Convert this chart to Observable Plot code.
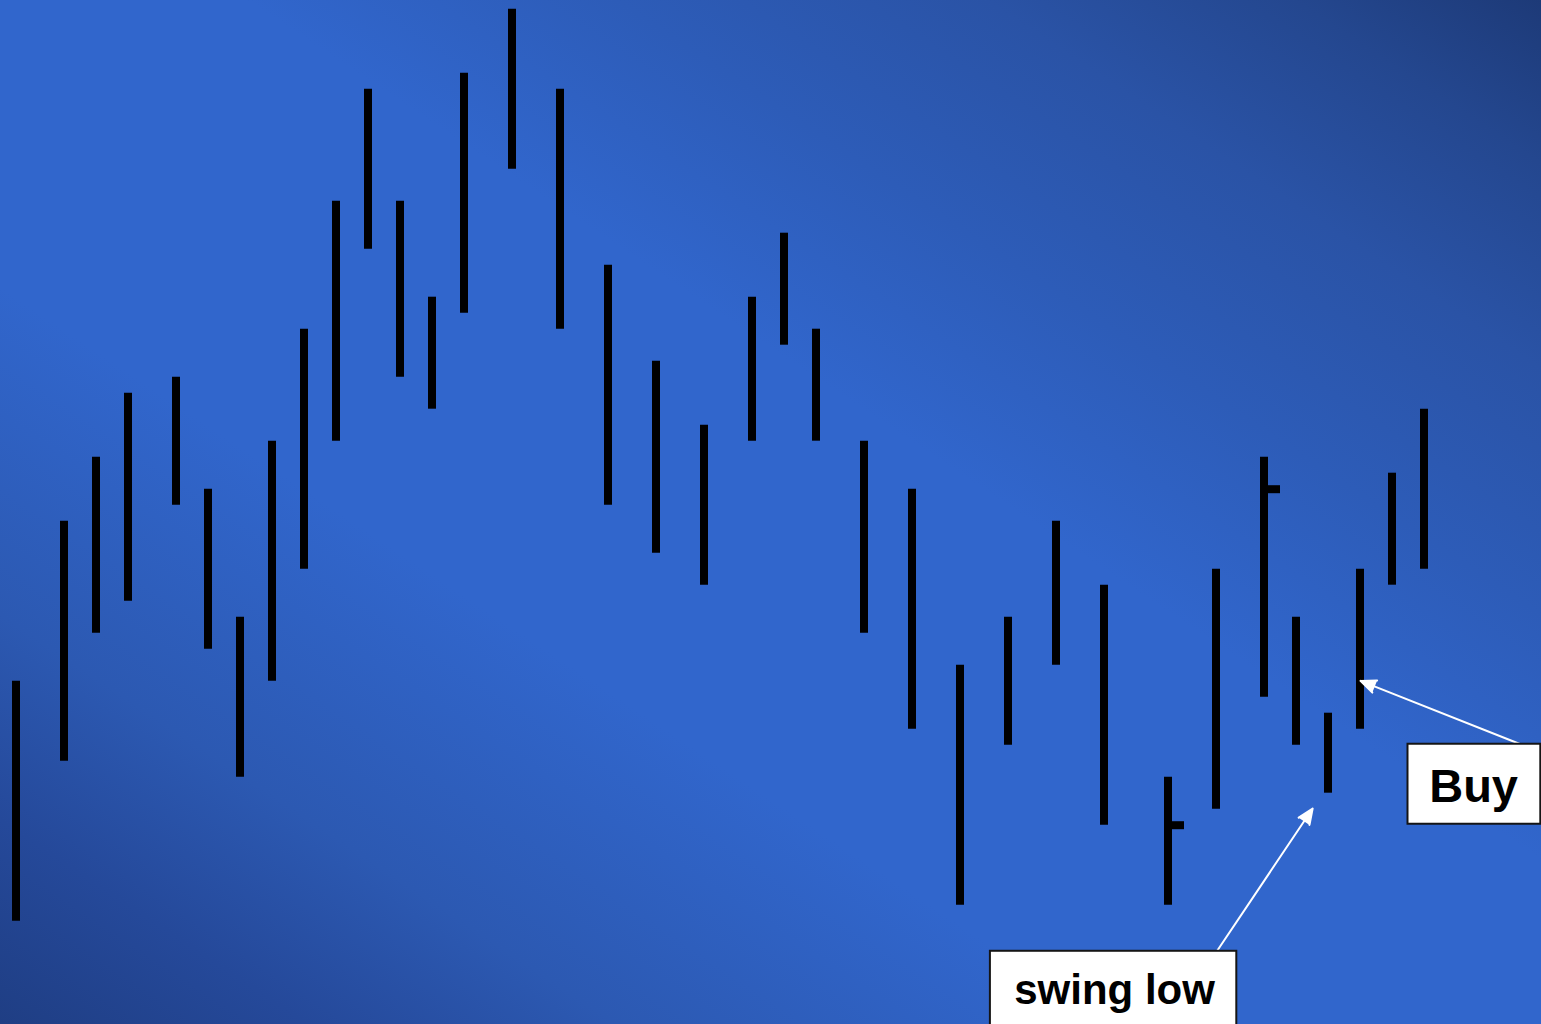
<!DOCTYPE html>
<html>
<head>
<meta charset="utf-8">
<script src="https://cdn.jsdelivr.net/npm/d3@7"></script>
<script src="https://cdn.jsdelivr.net/npm/@observablehq/plot@0.6"></script>
<style>
  html, body { margin: 0; padding: 0; background: #3166cc; overflow: hidden; }
</style>
</head>
<body>
<div id="chart"></div>
<script>
// Bar positions (session index) and high / low prices
const barIndex = [0, 3, 5, 7, 10, 12, 14, 16, 18, 20, 22, 24, 26, 28, 31, 34, 37, 40, 43, 46, 48, 50, 53, 56, 59, 62, 65, 68, 72, 75, 78, 80, 82, 84, 86, 88];
const barHigh  = [18, 28, 32, 36, 37, 30, 22, 33, 40, 48, 55, 48, 42, 56, 60, 55, 44, 38, 34, 42, 46, 40, 33, 30, 19, 22, 28, 24, 12, 25, 32, 22, 16, 25, 31, 35];
const barLow   = [3, 13, 21, 23, 29, 20, 12, 18, 25, 33, 45, 37, 35, 41, 50, 40, 29, 26, 24, 33, 39, 33, 21, 15, 4, 14, 19, 9, 4, 10, 17, 14, 11, 15, 24, 25];

// Close ticks shown on two bars
const tickIndex = [72, 78];
const tickClose = [9, 30];

// Annotation labels (in chart data units)
const labelText = ["swing low", "Buy"];
const boxX1 = [60.9, 87.0];
const boxX2 = [76.3, 95.3];
const boxY1 = [-4, 9.06];
const boxY2 = [1.12, 14.06];
const textX = [68.66, 91.1];
const textY = [-2.15, 10.45];
const arrowX1 = [74.97, 94.03];
const arrowY1 = [1.0, 14.06];
const arrowX2 = [81.04, 84.03];
const arrowY2 = [10.04, 18.02];

const bars = barIndex.map((i, k) => ({i, high: barHigh[k], low: barLow[k]}));
const ticks = tickIndex.map((i, k) => ({i, close: tickClose[k]}));
const boxes = labelText.map((t, k) => ({t, x1: boxX1[k], x2: boxX2[k], y1: boxY1[k], y2: boxY2[k], tx: textX[k], ty: textY[k]}));
const arrows = labelText.map((t, k) => ({t, x1: arrowX1[k], y1: arrowY1[k], x2: arrowX2[k], y2: arrowY2[k]}));

const font = "'Liberation Sans', Arial, Helvetica, sans-serif";

const chart = Plot.plot({
  width: 1541,
  height: 1024,
  margin: 0,
  x: {domain: [0, 95], range: [15.5, 1535.5], axis: null},
  y: {domain: [0, 60], range: [968.7, 8.7], axis: null},
  style: {
    background: "linear-gradient(to top right, #1f3e84 0%, #25499a 10%, #2c59b2 20%, #3166cc 36%, #3166cc 58%, #2d5cb8 70%, #2a53a6 82%, #24478f 92%, #1d3a78 100%)",
    fontFamily: font
  },
  marks: [
    Plot.ruleX(bars, {x: "i", y1: "low", y2: "high", stroke: "black", strokeWidth: 8}),
    Plot.link(ticks, {x1: "i", x2: d => d.i + 1, y1: "close", y2: "close", stroke: "black", strokeWidth: 8}),
    Plot.arrow(arrows, {x1: "x1", y1: "y1", x2: "x2", y2: "y2", stroke: "white", strokeWidth: 2, headLength: 12.5, headAngle: 46}),
    Plot.rect(boxes, {x1: "x1", x2: "x2", y1: "y1", y2: "y2", fill: "white", stroke: "#151515", strokeWidth: 2}),
    Plot.text(boxes.filter(d => d.t === "swing low"), {x: "tx", y: "ty", text: "t", fill: "black", fontSize: 42, fontWeight: "bold", fontFamily: font, textAnchor: "middle", lineAnchor: "bottom"}),
    Plot.text(boxes.filter(d => d.t === "Buy"), {x: "tx", y: "ty", text: "t", fill: "black", fontSize: 47, fontWeight: "bold", fontFamily: font, textAnchor: "middle", lineAnchor: "bottom"})
  ]
});

// fill the arrowheads
chart.querySelectorAll('g[aria-label="arrow"] path').forEach(p => {
  p.setAttribute("fill", "white");
  p.setAttribute("stroke-linejoin", "miter");
});

document.getElementById("chart").appendChild(chart);
</script>
</body>
</html>
